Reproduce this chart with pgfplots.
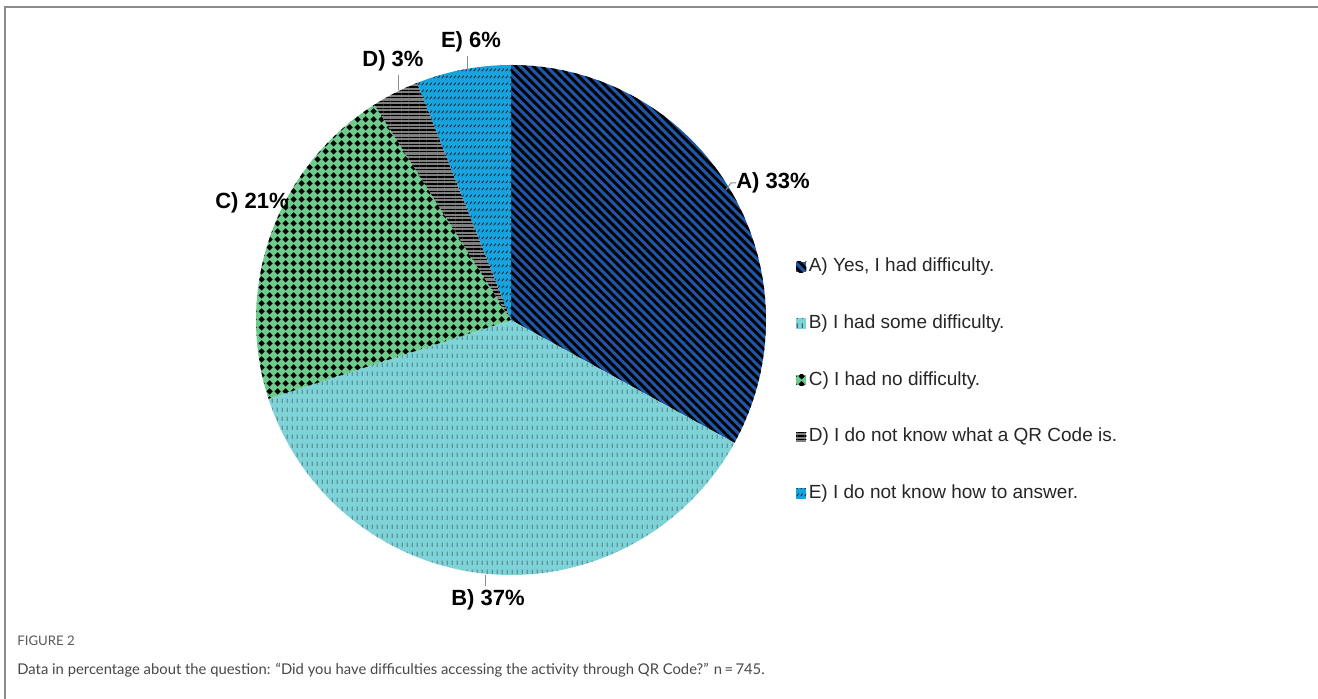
\documentclass[border=0pt]{standalone}
\usepackage{pgfplots}
\pgfplotsset{compat=1.18}
\usepackage{pgfplotstable}
\usetikzlibrary{patterns,patterns.meta}
\usepackage{fontspec}
\setmainfont{Liberation Sans}
\newfontfamily\capfont{Lato}

\definecolor{colA}{RGB}{32,86,168}
\definecolor{colB}{RGB}{125,211,216}
\definecolor{colC}{RGB}{108,202,138}
\definecolor{colD}{RGB}{128,128,128}
\definecolor{colE}{RGB}{22,163,224}

\pgfdeclarepatternformonly{dashV}{\pgfqpoint{0pt}{0pt}}{\pgfqpoint{2.5pt}{4.4pt}}{\pgfqpoint{2.5pt}{4.4pt}}{%
  \pgfsetlinewidth{0.4pt}\pgfpathmoveto{\pgfqpoint{1.25pt}{1.1pt}}\pgfpathlineto{\pgfqpoint{1.25pt}{3.3pt}}\pgfusepath{stroke}}
\pgfdeclarepatternformonly{diamC}{\pgfqpoint{0pt}{0pt}}{\pgfqpoint{3.8pt}{3.8pt}}{\pgfqpoint{3.8pt}{3.8pt}}{%
  \pgfpathmoveto{\pgfqpoint{1.9pt}{0.25pt}}\pgfpathlineto{\pgfqpoint{3.55pt}{1.9pt}}\pgfpathlineto{\pgfqpoint{1.9pt}{3.55pt}}\pgfpathlineto{\pgfqpoint{0.25pt}{1.9pt}}\pgfpathclose\pgfusepath{fill}}
\pgfdeclarepatternformonly{dashD}{\pgfqpoint{0pt}{0pt}}{\pgfqpoint{2.2pt}{3.6pt}}{\pgfqpoint{2.2pt}{3.6pt}}{%
  \pgfsetlinewidth{0.45pt}\pgfpathmoveto{\pgfqpoint{0.4pt}{1.0pt}}\pgfpathlineto{\pgfqpoint{1.6pt}{2.4pt}}\pgfusepath{stroke}}

% survey data (percent)
\pgfplotstableread{
label pct
A 33
B 37
C 21
D 3
E 6
}\piedata
\pgfplotstablegetelem{0}{pct}\of\piedata \let\pA\pgfplotsretval
\pgfplotstablegetelem{1}{pct}\of\piedata \let\pB\pgfplotsretval
\pgfplotstablegetelem{2}{pct}\of\piedata \let\pC\pgfplotsretval
\pgfplotstablegetelem{3}{pct}\of\piedata \let\pD\pgfplotsretval
\pgfplotstablegetelem{4}{pct}\of\piedata \let\pE\pgfplotsretval
\pgfmathsetmacro\aO{90}
\pgfmathsetmacro\aA{\aO-3.6*\pA}
\pgfmathsetmacro\aB{\aA-3.6*\pB}
\pgfmathsetmacro\aC{\aB-3.6*\pC}
\pgfmathsetmacro\aD{\aC-3.6*\pD}
\pgfmathsetmacro\aE{\aD-3.6*\pE}
\def\cx{511}\def\cy{379}\def\rr{255}

\begin{document}
\begin{tikzpicture}
\begin{axis}[x=0.5pt, y=0.5pt, xmin=0, xmax=1318, ymin=0, ymax=699,
  hide axis, clip=false, samples=120, variable=\t,
  legend image code/.code={\path[#1] (0pt,-2.6pt) rectangle (5.2pt,2.6pt); \path (6.4pt,0pt);},
  legend cell align=left,
  legend style={at={(axis cs:796,441)}, anchor=north west, draw=none, fill=none,
    inner sep=0pt, outer sep=0pt, row sep=19.3pt,
    font=\fontsize{9.5}{11}\selectfont, text=black!85,
    nodes={inner sep=0pt, text height=7pt, text depth=2pt}},
]
\addplot[draw=none, fill=colA, postaction={pattern={Lines[angle=-45,distance=3.1pt,line width=1.45pt]}, pattern color=black}, domain=\aO:\aA]
  ({\cx+\rr*cos(\t)},{\cy+\rr*sin(\t)}) -- (axis cs:\cx,\cy) -- cycle;
\addlegendentry{A) Yes, I had difficulty.}
\addplot[draw=none, fill=colB, postaction={pattern=dashV, pattern color=black!85}, domain=\aA:\aB]
  ({\cx+\rr*cos(\t)},{\cy+\rr*sin(\t)}) -- (axis cs:\cx,\cy) -- cycle;
\addlegendentry{B) I had some difficulty.}
\addplot[draw=none, fill=colC, postaction={pattern=diamC, pattern color=black}, domain=\aB:\aC]
  ({\cx+\rr*cos(\t)},{\cy+\rr*sin(\t)}) -- (axis cs:\cx,\cy) -- cycle;
\addlegendentry{C) I had no difficulty.}
\addplot[draw=none, fill=colD, postaction={pattern={Lines[angle=0,distance=1.8pt,line width=0.7pt]}, pattern color=black}, domain=\aC:\aD]
  ({\cx+\rr*cos(\t)},{\cy+\rr*sin(\t)}) -- (axis cs:\cx,\cy) -- cycle;
\addlegendentry{D) I do not know what a QR Code is.}
\addplot[draw=none, fill=colE, postaction={pattern=dashD, pattern color=black!85}, domain=\aD:\aE]
  ({\cx+\rr*cos(\t)},{\cy+\rr*sin(\t)}) -- (axis cs:\cx,\cy) -- cycle;
\addlegendentry{E) I do not know how to answer.}

% leader lines
\draw[black!45, line width=0.5pt] (axis cs:726,509) -- (axis cs:731,516) -- (axis cs:736,516);
\draw[black!45, line width=0.5pt] (axis cs:485,124) -- (axis cs:485,113);
\draw[black!45, line width=0.5pt] (axis cs:398,624) -- (axis cs:398,609);
\draw[black!45, line width=0.5pt] (axis cs:467,643) -- (axis cs:467,627);
\draw[black!45, line width=0.5pt] (axis cs:288,492) -- (axis cs:293,489);

% labels
\begin{scope}[every node/.style={font=\bfseries\fontsize{11}{13}\selectfont, inner sep=0pt}]
\node at (axis cs:773,516) {A) 33\%};
\node at (axis cs:488,99) {B) 37\%};
\node at (axis cs:252,496) {C) 21\%};
\node at (axis cs:393,638) {D) 3\%};
\node at (axis cs:471,657) {E) 6\%};
\end{scope}

% frame
\draw[black!45, line width=1pt] (axis cs:5,0) -- (axis cs:5,692) -- (axis cs:1318,692);

% caption
\node[anchor=west, inner sep=0pt, font=\capfont\fontsize{6.6}{8}\selectfont, text=black!65] at (axis cs:17,58) {FIGURE 2};
\node[anchor=west, inner sep=0pt, font=\capfont\fontsize{7.4}{9}\selectfont, text=black!72] at (axis cs:17,29) {Data in percentage about the question: “Did you have difficulties accessing the activity through QR Code?” n\,=\,745.};
\end{axis}
\pgfresetboundingbox
\useasboundingbox (0,0) rectangle (659pt,349.5pt);
\end{tikzpicture}
\end{document}
